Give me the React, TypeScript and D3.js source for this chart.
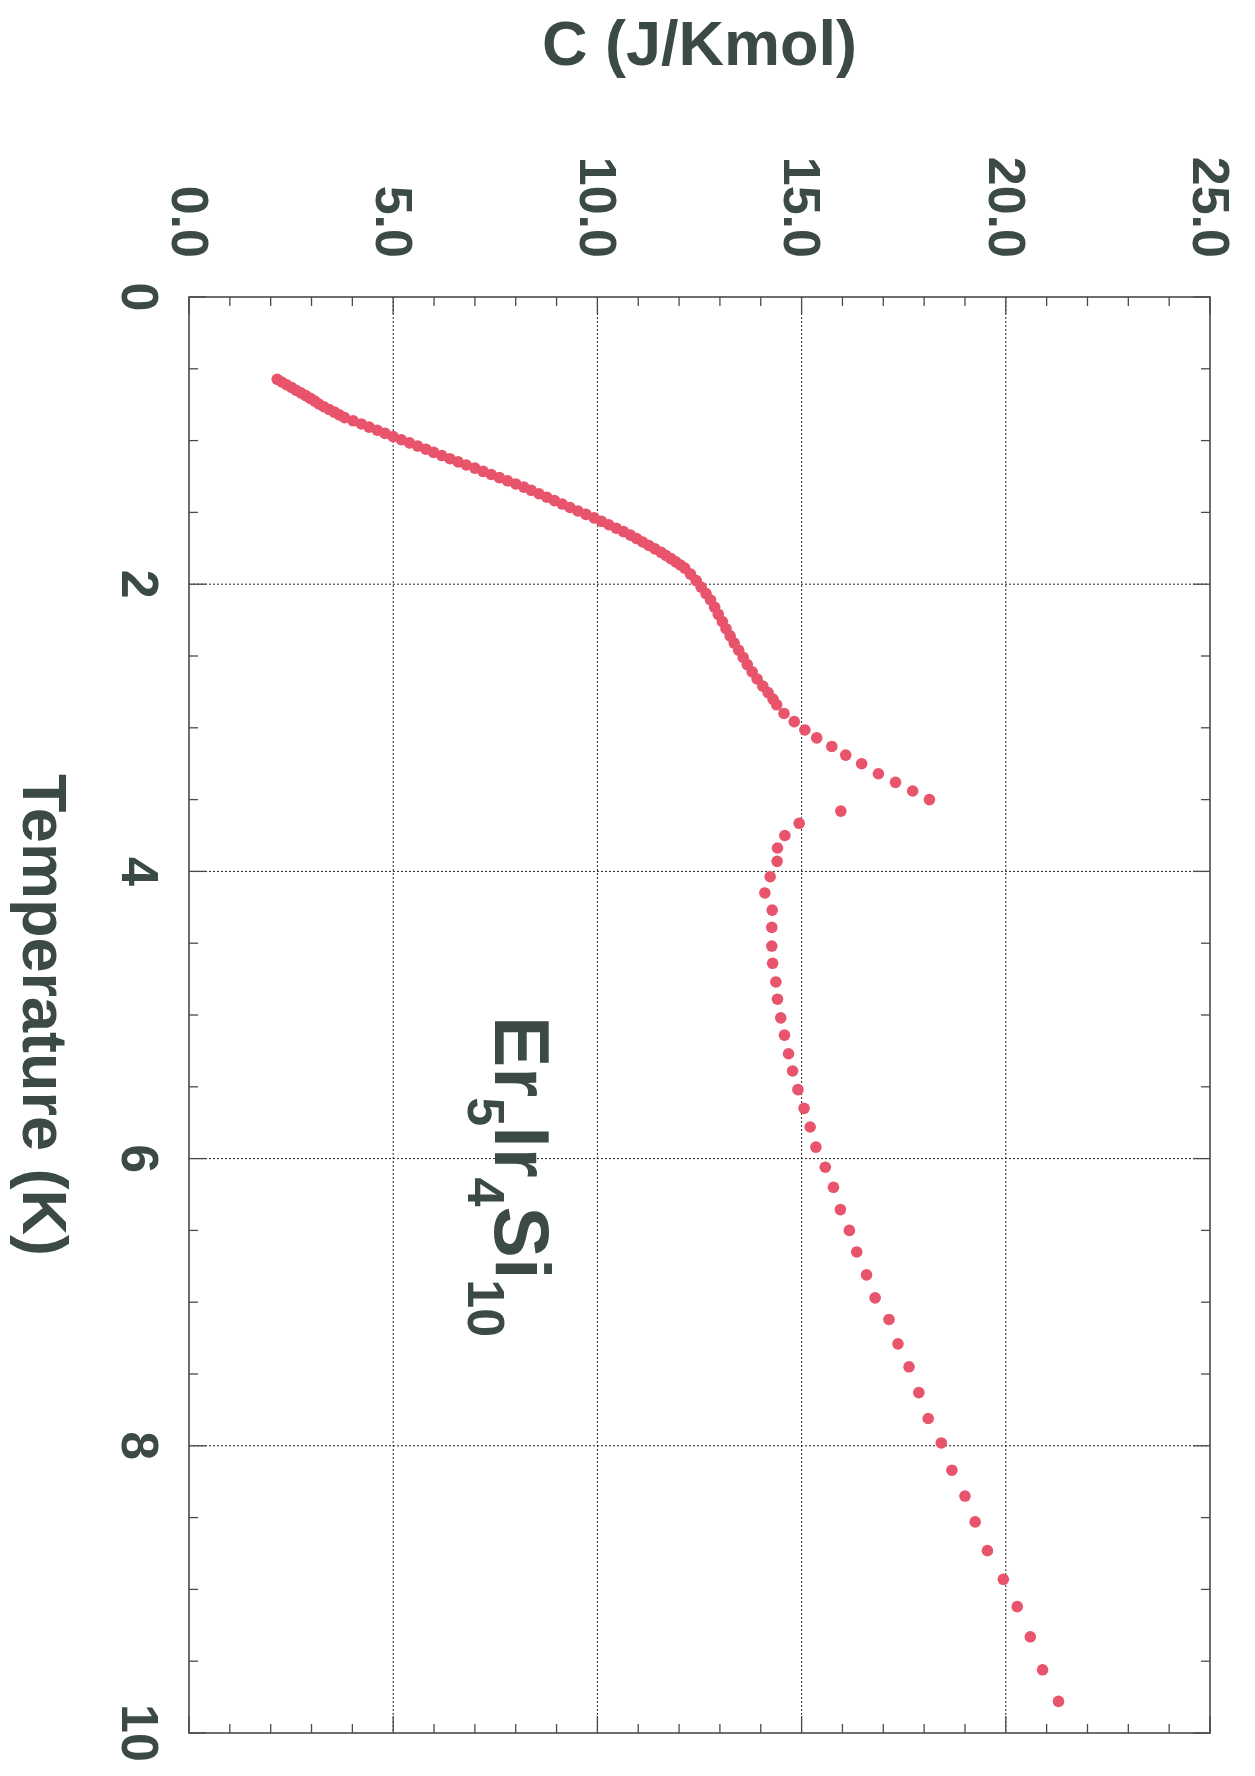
import React, { useEffect, useRef } from "react";
import * as d3 from "d3";

// Temperature (K) of each measured point
const tempK = [
    0.573, 0.592, 0.611, 0.630, 0.649, 0.668, 0.687, 0.706, 0.725, 0.745, 0.764, 0.783, 0.802, 0.821, 0.840,
    0.862, 0.884, 0.906, 0.928, 0.950, 0.972, 0.994, 1.016, 1.038, 1.060, 1.082, 1.104, 1.126, 1.148, 1.170,
    1.192, 1.214, 1.236, 1.258, 1.280, 1.302, 1.324, 1.346, 1.370, 1.394, 1.418, 1.442, 1.466, 1.490, 1.514,
    1.538, 1.562, 1.586, 1.610, 1.634, 1.658, 1.682, 1.706, 1.730, 1.754, 1.778, 1.800, 1.822, 1.844, 1.866,
    1.888, 1.930, 1.975, 2.020, 2.065, 2.110, 2.160, 2.210, 2.260, 2.310, 2.360, 2.410, 2.460, 2.510, 2.560,
    2.610, 2.660, 2.710, 2.755, 2.800, 2.840,
    2.90, 2.957, 3.015, 3.07, 3.13, 3.19, 3.25, 3.32, 3.38, 3.44, 3.50,
    3.58, 3.665, 3.75, 3.837, 3.93, 4.037, 4.15, 4.27, 4.39, 4.52, 4.64, 4.77, 4.89, 5.02, 5.14,
    5.27, 5.39, 5.52, 5.65, 5.78, 5.92, 6.06, 6.20, 6.355, 6.50, 6.65, 6.81, 6.97, 7.12, 7.29,
    7.45, 7.63, 7.81, 7.98, 8.17, 8.35, 8.53, 8.73, 8.93, 9.12, 9.33, 9.56, 9.78
];

// heat capacity C (J/Kmol) at the same points
const heatCap = [
    2.16, 2.27, 2.39, 2.51, 2.62, 2.74, 2.86, 2.97, 3.08, 3.18, 3.30, 3.43, 3.56, 3.68, 3.81,
    4.02, 4.22, 4.41, 4.61, 4.80, 5.00, 5.20, 5.40, 5.60, 5.80, 5.99, 6.19, 6.39, 6.59, 6.79,
    7.00, 7.20, 7.40, 7.60, 7.80, 8.00, 8.20, 8.38, 8.57, 8.76, 8.95, 9.14, 9.33, 9.52, 9.72,
    9.92, 10.10, 10.28, 10.46, 10.64, 10.81, 10.96, 11.11, 11.26, 11.41, 11.56, 11.68, 11.80, 11.92, 12.03,
    12.14, 12.28, 12.42, 12.54, 12.66, 12.77, 12.87, 12.96, 13.06, 13.15, 13.25, 13.35, 13.46, 13.57, 13.67,
    13.79, 13.91, 14.05, 14.18, 14.30, 14.39,
    14.57, 14.82, 15.08, 15.37, 15.74, 16.08, 16.47, 16.88, 17.30, 17.72, 18.13,
    15.96, 14.94, 14.59, 14.41, 14.40, 14.23, 14.10, 14.28, 14.27, 14.27, 14.29, 14.37, 14.41, 14.49, 14.58,
    14.68, 14.78, 14.91, 15.06, 15.21, 15.35, 15.58, 15.78, 15.95, 16.17, 16.35, 16.59, 16.80, 17.14, 17.36,
    17.63, 17.87, 18.10, 18.42, 18.68, 19.00, 19.25, 19.55, 19.94, 20.28, 20.60, 20.90, 21.29
];

const tempTicks = [0, 2, 4, 6, 8, 10];
const tempLabels = ["0", "2", "4", "6", "8", "10"];
const capTicks = [0, 5, 10, 15, 20, 25];
const capLabels = ["0.0", "5.0", "10.0", "15.0", "20.0", "25.0"];

const width = 1255, height = 1776;
const left = 189, right = 1210, top = 297, bottom = 1733;
const ink = "#3b4a47";
const frame = "#4a4a4a";
const dotColor = "#e8546c";
const font = "'Liberation Sans', Arial, Helvetica, sans-serif";

const App = () => {
    const ref = useRef(null);

    useEffect(() => {
        document.body.style.margin = "0";
        const svg = d3.select(ref.current);
        svg.selectAll("*").remove();

        // the plot is turned on its side: T runs down the page, C runs across
        const x = d3.scaleLinear().domain([0, 25]).range([left, right]);
        const y = d3.scaleLinear().domain([0, 10]).range([top, bottom]);

        // dotted grid
        const grid = svg.append("g")
            .attr("stroke", "#222")
            .attr("stroke-width", 1)
            .attr("stroke-dasharray", "2,2");
        grid.selectAll(".gx")
            .data(capTicks.slice(1, -1))
            .enter()
            .append("line")
            .attr("x1", d => x(d)).attr("x2", d => x(d))
            .attr("y1", top).attr("y2", bottom);
        grid.selectAll(".gy")
            .data(tempTicks.slice(1, -1))
            .enter()
            .append("line")
            .attr("x1", left).attr("x2", right)
            .attr("y1", d => y(d)).attr("y2", d => y(d));

        // inward ticks on all four edges
        const ticks = svg.append("g").attr("stroke", frame).attr("stroke-width", 1.3);
        const capMinor = x.ticks(25);
        const tempMinor = y.ticks(20);
        const len = (isMajor) => (isMajor ? 17 : 9);
        capMinor.forEach(c => {
            const l = len(c % 5 === 0);
            ticks.append("line").attr("x1", x(c)).attr("x2", x(c)).attr("y1", top).attr("y2", top + l);
            ticks.append("line").attr("x1", x(c)).attr("x2", x(c)).attr("y1", bottom).attr("y2", bottom - l);
        });
        tempMinor.forEach(t => {
            const l = len(t % 2 === 0);
            ticks.append("line").attr("x1", left).attr("x2", left + l).attr("y1", y(t)).attr("y2", y(t));
            ticks.append("line").attr("x1", right).attr("x2", right - l).attr("y1", y(t)).attr("y2", y(t));
        });

        svg.append("rect")
            .attr("x", left).attr("y", top)
            .attr("width", right - left).attr("height", bottom - top)
            .attr("fill", "none")
            .attr("stroke", frame)
            .attr("stroke-width", 1.6);

        // data points
        svg.append("g")
            .selectAll("circle")
            .data(tempK.map((t, i) => [t, heatCap[i]]))
            .enter()
            .append("circle")
            .attr("cx", d => x(d[1]))
            .attr("cy", d => y(d[0]))
            .attr("r", 5.8)
            .attr("fill", dotColor);

        // tick labels, turned with the plot
        svg.append("g")
            .selectAll("text")
            .data(capTicks)
            .enter()
            .append("text")
            .attr("transform", d => "translate(" + x(d) + ",258) rotate(90)")
            .attr("text-anchor", "end")
            .attr("dy", "0.33em")
            .attr("font-family", font)
            .attr("font-weight", "bold")
            .attr("font-size", 52)
            .attr("fill", ink)
            .text((d, i) => capLabels[i]);

        svg.append("g")
            .selectAll("text")
            .data(tempTicks)
            .enter()
            .append("text")
            .attr("transform", d => "translate(122," + y(d) + ") rotate(90)")
            .attr("text-anchor", "middle")
            .attr("font-family", font)
            .attr("font-weight", "bold")
            .attr("font-size", 52)
            .attr("fill", ink)
            .text((d, i) => tempLabels[i]);

        // axis titles
        svg.append("text")
            .attr("x", (left + right) / 2)
            .attr("y", 65)
            .attr("text-anchor", "middle")
            .attr("font-family", font)
            .attr("font-weight", "bold")
            .attr("font-size", 63)
            .attr("fill", ink)
            .text("C (J/Kmol)");

        svg.append("text")
            .attr("transform", "translate(23," + (top + bottom) / 2 + ") rotate(90)")
            .attr("text-anchor", "middle")
            .attr("font-family", font)
            .attr("font-weight", "bold")
            .attr("font-size", 63)
            .attr("fill", ink)
            .text("Temperature (K)");

        // compound label Er5Ir4Si10
        const label = svg.append("text")
            .attr("transform", "translate(495,1016) rotate(90)")
            .attr("font-family", font)
            .attr("font-weight", "bold")
            .attr("font-size", 77)
            .attr("fill", ink);
        const parts = [["Er", false], ["5", true], ["Ir", false], ["4", true], ["Si", false], ["10", true]];
        parts.forEach(([s, sub], i) => {
            label.append("tspan")
                .attr("font-size", sub ? 52 : 77)
                .attr("dy", i === 0 ? 0 : (sub ? 27 : -27))
                .text(s);
        });
    }, []);

    return (
        <svg ref={ref} width={width} height={height}
             style={{ position: "absolute", left: 0, top: 0, background: "#fff" }} />
    );
};

export default App;
